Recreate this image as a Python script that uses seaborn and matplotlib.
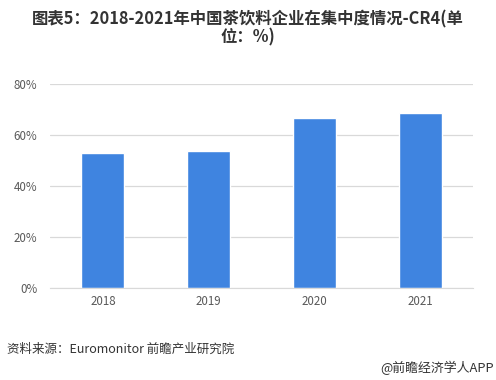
import pandas as pd
import seaborn as sns
import matplotlib.pyplot as plt

# values
years = ["2018", "2019", "2020", "2021"]
cr4 = [53.1, 53.7, 66.8, 68.7]
y_ticks = [0, 20, 40, 60, 80]
y_tick_labels = ["0%", "20%", "40%", "60%", "80%"]

df = pd.DataFrame({"year": years, "cr4": cr4})

sns.set_style("white")
plt.rcParams["font.family"] = ["Noto Sans CJK SC", "DejaVu Sans"]

fig = plt.figure(figsize=(4.96, 3.8), dpi=100)
ax = fig.add_axes([0.1008, 0.2421, 0.8528, 0.5368])

sns.barplot(data=df, x="year", y="cr4", color="#3f84e0", saturation=1,
            width=0.405, ax=ax, zorder=2)

ax.set_ylim(0, 80)
ax.set_xlim(-0.5, 3.5)
ax.set_yticks(y_ticks)
ax.set_yticklabels(y_tick_labels)
ax.yaxis.grid(True, color="#d9d9d9", linewidth=0.9, zorder=0)
ax.set_axisbelow(True)
ax.set_xlabel("")
ax.set_ylabel("")
for side in ["top", "right", "left"]:
    ax.spines[side].set_visible(False)
ax.spines["bottom"].set_color("#d9d9d9")
ax.tick_params(axis="both", length=0, labelsize=8.3, colors="#595959")
ax.tick_params(axis="y", pad=9)
ax.tick_params(axis="x", pad=5)

fig.text(0.5, 0.972, "图表5：2018-2021年中国茶饮料企业在集中度情况-CR4(单\n位：%)",
         ha="center", va="top", fontsize=11.8, fontweight="bold", color="#333333",
         linespacing=0.98)
fig.text(0.014, 0.08, "资料来源：Euromonitor 前瞻产业研究院", ha="left", va="center",
         fontsize=9, color="#333333")
fig.text(0.995, 0.032, "@前瞻经济学人APP", ha="right", va="center",
         fontsize=9.3, color="#333333")

fig.savefig("out.png", dpi=100)
